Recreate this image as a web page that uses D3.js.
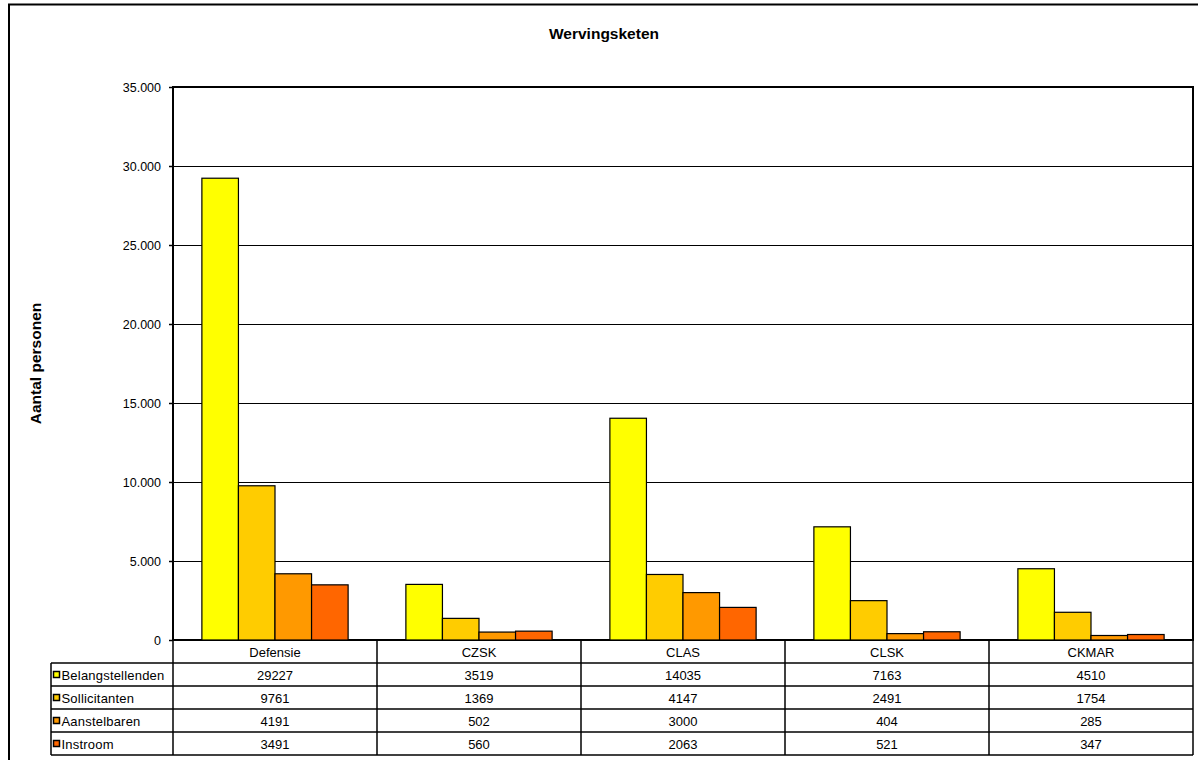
<!DOCTYPE html>
<html>
<head>
<meta charset="utf-8">
<script src="https://cdn.jsdelivr.net/npm/d3@7"></script>
<style>
  body { margin: 0; background: #fff; }
  svg { display: block; font-family: "Liberation Sans", Arial, sans-serif; }
</style>
</head>
<body>
<div id="chart"></div>
<script>
// data
var categories = ['Defensie', 'CZSK', 'CLAS', 'CLSK', 'CKMAR'];
var seriesNames = ['Belangstellenden', 'Sollicitanten', 'Aanstelbaren', 'Instroom'];
var belangstellenden = [29227, 3519, 14035, 7163, 4510];
var sollicitanten = [9761, 1369, 4147, 2491, 1754];
var aanstelbaren = [4191, 502, 3000, 404, 285];
var instroom = [3491, 560, 2063, 521, 347];
var yTicks = [0, 5000, 10000, 15000, 20000, 25000, 30000, 35000];
var colors = ['#FFFF00', '#FFCC00', '#FF9900', '#FF6600'];

var seriesValues = [belangstellenden, sollicitanten, aanstelbaren, instroom];

var W = 1198, H = 760;
var plot = { left: 173, right: 1193, top: 87, bottom: 640 };
var rowH = 23;
var labelLeft = 51;
var tableFont = 13;

var svg = d3.select('#chart').append('svg')
    .attr('width', W).attr('height', H);

// outer frame (runs past right and bottom edge)
svg.append('rect')
    .attr('x', 9).attr('y', 4.5)
    .attr('width', W + 20).attr('height', H + 20)
    .attr('fill', 'none').attr('stroke', '#000').attr('stroke-width', 2);

var x0 = d3.scaleBand().domain(categories).range([plot.left, plot.right]);
var x1 = d3.scaleBand().domain(seriesNames)
    .range([0, x0.bandwidth()]).paddingInner(0).paddingOuter(0.79);
var y = d3.scaleLinear().domain([0, 35000]).range([plot.bottom, plot.top]);

// gridlines
svg.append('g').selectAll('line')
    .data(yTicks.filter(d => d > 0 && d < 35000))
    .enter().append('line')
    .attr('x1', plot.left).attr('x2', plot.right)
    .attr('y1', d => y(d) + 0.5).attr('y2', d => y(d) + 0.5)
    .attr('stroke', '#000').attr('stroke-width', 1);

// plot border
svg.append('rect')
    .attr('x', plot.left).attr('y', plot.top)
    .attr('width', plot.right - plot.left).attr('height', plot.bottom - plot.top)
    .attr('fill', 'none').attr('stroke', '#000').attr('stroke-width', 2);

// bars
var groups = svg.append('g').selectAll('g')
    .data(categories)
    .enter().append('g')
    .attr('transform', d => 'translate(' + x0(d) + ',0)');

groups.selectAll('rect')
    .data((c, i) => seriesNames.map((s, j) => ({ s: s, j: j, v: seriesValues[j][i] })))
    .enter().append('rect')
    .attr('x', d => x1(d.s))
    .attr('y', d => y(d.v))
    .attr('width', x1.bandwidth())
    .attr('height', d => y(0) - y(d.v))
    .attr('fill', d => colors[d.j])
    .attr('stroke', '#000').attr('stroke-width', 1.2);

// y axis
var yAxis = d3.axisLeft(y).tickValues(yTicks).tickSize(4).tickPadding(8)
    .tickFormat(d => d === 0 ? '0' : d3.format(',')(d).replace(/,/g, '.'));
var ga = svg.append('g').attr('transform', 'translate(' + plot.left + ',0)').call(yAxis);
ga.select('.domain').remove();
ga.selectAll('.tick line').attr('stroke', '#000').attr('stroke-width', 1.5);
ga.selectAll('.tick text').attr('font-size', 12.5).attr('fill', '#000')
    .attr('font-family', '"Liberation Sans", Arial, sans-serif');

// y label
svg.append('text')
    .attr('transform', 'translate(41,' + ((plot.top + plot.bottom) / 2) + ') rotate(-90)')
    .attr('text-anchor', 'middle')
    .attr('font-size', 15.5).attr('font-weight', 'bold')
    .text('Aantal personen');

// title
svg.append('text')
    .attr('x', 604).attr('y', 39)
    .attr('text-anchor', 'middle')
    .attr('font-size', 15.5).attr('font-weight', 'bold')
    .text('Wervingsketen');

// data table
var table = svg.append('g');
var tTop = plot.bottom;
var tBottom = tTop + rowH * 5;

// horizontal lines
d3.range(1, 6).forEach(function (r) {
    table.append('line')
        .attr('x1', labelLeft).attr('x2', plot.right)
        .attr('y1', tTop + r * rowH).attr('y2', tTop + r * rowH)
        .attr('stroke', '#000').attr('stroke-width', 1.5);
});
// vertical lines
categories.concat(['end']).forEach(function (c, i) {
    var xx = i < categories.length ? x0(c) : plot.right;
    table.append('line')
        .attr('x1', xx).attr('x2', xx)
        .attr('y1', tTop).attr('y2', tBottom)
        .attr('stroke', '#000').attr('stroke-width', 1.5);
});
table.append('line')
    .attr('x1', labelLeft).attr('x2', labelLeft)
    .attr('y1', tTop + rowH).attr('y2', tBottom)
    .attr('stroke', '#000').attr('stroke-width', 1.5);

// header
table.selectAll('text.cat')
    .data(categories)
    .enter().append('text')
    .attr('class', 'cat')
    .attr('x', d => x0(d) + x0.bandwidth() / 2)
    .attr('y', tTop + rowH / 2 + 5)
    .attr('text-anchor', 'middle').attr('font-size', tableFont)
    .text(d => d);

// rows
seriesNames.forEach(function (s, j) {
    var ry = tTop + (j + 1) * rowH;
    table.append('rect')
        .attr('x', labelLeft + 2.5).attr('y', ry + rowH / 2 - 3)
        .attr('width', 6).attr('height', 6)
        .attr('fill', colors[j]).attr('stroke', '#000').attr('stroke-width', 1.5);
    table.append('text')
        .attr('x', labelLeft + 10.5).attr('y', ry + rowH / 2 + 5)
        .attr('font-size', tableFont).attr('letter-spacing', 0.2)
        .text(s);
    table.selectAll('text.v' + j)
        .data(seriesValues[j])
        .enter().append('text')
        .attr('class', 'v' + j)
        .attr('x', (d, i) => x0(categories[i]) + x0.bandwidth() / 2)
        .attr('y', ry + rowH / 2 + 5)
        .attr('text-anchor', 'middle').attr('font-size', tableFont)
        .text(d => d);
});
</script>
</body>
</html>
